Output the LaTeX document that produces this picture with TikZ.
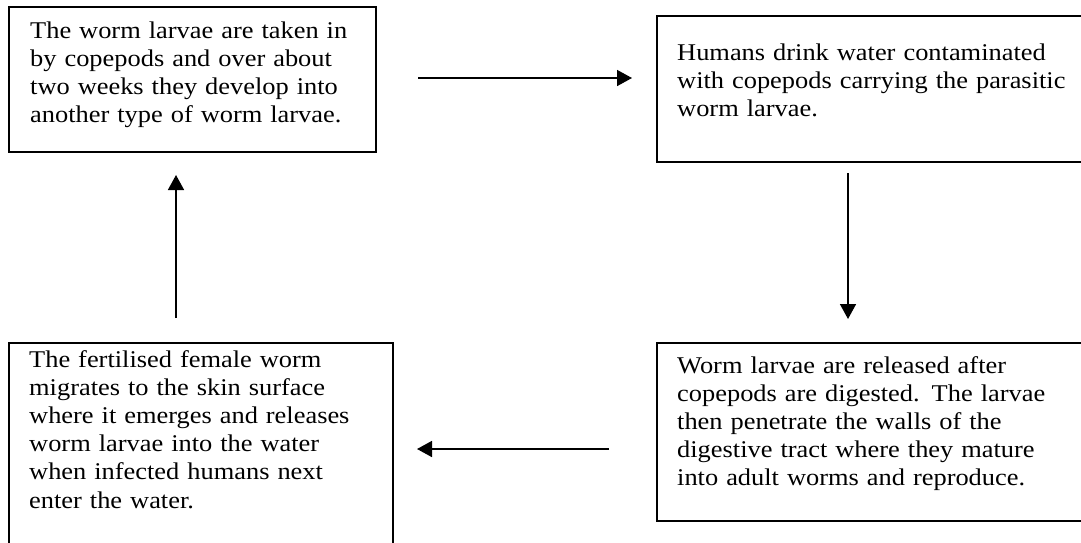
\documentclass[tikz,border=0pt]{standalone}
\usepackage{fontspec}
\setmainfont{Liberation Serif}[FakeStretch=1.1]
\usetikzlibrary{arrows.meta}
\begin{document}
\begin{tikzpicture}[x=1pt,y=-1pt,
  boxnode/.style={draw=black,line width=1.8pt,rectangle,inner sep=0pt,anchor=north west},
  txt/.style={anchor=base west,inner sep=0pt,text width=400pt,align=left,
    font=\fontsize{24}{28.2}\selectfont},
  flow/.style={line width=1.6pt,-{Triangle[length=15pt,width=16pt]}}]
\path[use as bounding box] (0,0) rectangle (1081,542);
\clip (0,0) rectangle (1081,542);
% boxes
\node[boxnode,minimum width=367pt,minimum height=145pt] (tl) at (8,6) {};
\node[boxnode,minimum width=434pt,minimum height=146pt] (tr) at (656,15) {};
\node[boxnode,minimum width=434pt,minimum height=178pt] (br) at (656,342) {};
\node[boxnode,minimum width=384pt,minimum height=220pt] (bl) at (8,342) {};
% texts
\node[txt] (tlt) at (30,38) {The worm larvae are taken in\\by copepods and over about\\two weeks they develop into\\another type of worm larvae.};
\node[txt] (trt) at (677,60) {Humans drink water contaminated\\with copepods carrying the parasitic\\worm larvae.};
\node[txt] (brt) at (677,373) {Worm larvae are released after\\copepods are digested. The larvae\\then penetrate the walls of the\\digestive tract where they mature\\into adult worms and reproduce.};
\node[txt] (blt) at (29,367) {The fertilised female worm\\migrates to the skin surface\\where it emerges and releases\\worm larvae into the water\\when infected humans next\\enter the water.};
% arrow ends
\coordinate (a1s) at (418,78);
\coordinate (a1e) at (632,78);
\coordinate (a2s) at (848,173);
\coordinate (a2e) at (848,319);
\coordinate (a3s) at (609,449);
\coordinate (a3e) at (417,449);
\coordinate (a4s) at (176,318);
\coordinate (a4e) at (176,175);
\draw[flow] (a1s) -- (a1e);
\draw[flow] (a2s) -- (a2e);
\draw[flow] (a3s) -- (a3e);
\draw[flow] (a4s) -- (a4e);
\end{tikzpicture}
\end{document}
